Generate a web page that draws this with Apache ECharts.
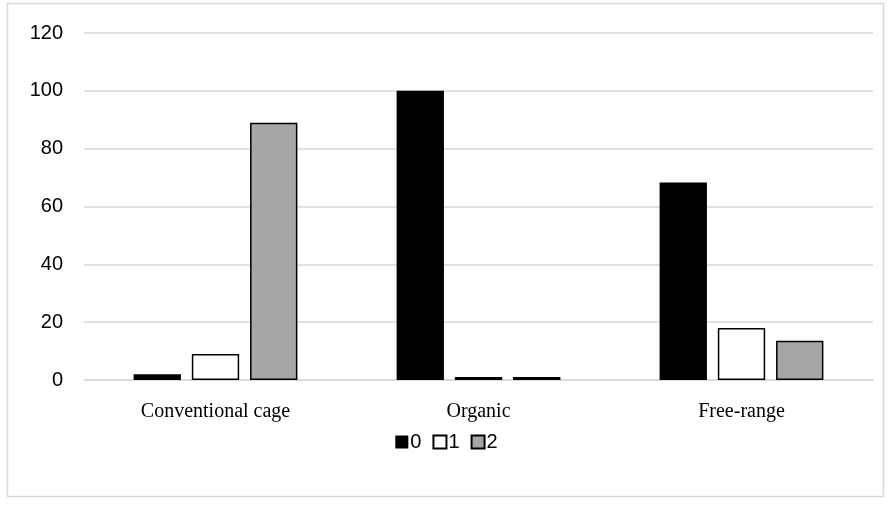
<!DOCTYPE html>
<html>
<head>
<meta charset="utf-8">
<script src="https://cdn.jsdelivr.net/npm/echarts@6/dist/echarts.min.js"></script>
<style>
html,body{margin:0;padding:0;background:#fff;}
#c{width:893px;height:506px;}
</style>
</head>
<body>
<div id="c"></div>
<script>
var categories = ['Conventional cage', 'Organic', 'Free-range'];
var seriesNames = ['0', '1', '2'];
var values0 = [2, 100, 68.3];
var values1 = [9, 1, 18];
var values2 = [89, 1, 13.6];
var yTicks = [0, 20, 40, 60, 80, 100, 120];

var chart = echarts.init(document.getElementById('c'));
var border = {color: '#000', width: 1.5};
chart.setOption({
  animation: false,
  backgroundColor: '#fff',
  graphic: [{
    type: 'rect', z: -10, silent: true,
    shape: {x: 7.5, y: 3.5, width: 876, height: 493},
    style: {fill: 'none', stroke: '#d9d9d9', lineWidth: 1.5}
  }],
  grid: {left: 84, right: 20, top: 33, bottom: 126, containLabel: false},
  legend: {
    bottom: 49, left: 'center',
    itemWidth: 13, itemHeight: 13, itemGap: 11,
    icon: 'rect',
    textStyle: {fontFamily: 'Liberation Sans, Arial, sans-serif', fontSize: 20, color: '#000', padding: [0,0,0,-3]},
    data: seriesNames
  },
  xAxis: {
    type: 'category',
    data: categories,
    axisLine: {lineStyle: {color: '#d9d9d9', width: 1.5}},
    axisTick: {show: false},
    axisLabel: {fontFamily: 'Liberation Serif, Times New Roman, serif', fontSize: 20, color: '#000', margin: 22}
  },
  yAxis: {
    type: 'value', min: yTicks[0], max: yTicks[yTicks.length - 1], interval: 20,
    axisLine: {show: false}, axisTick: {show: false},
    splitLine: {lineStyle: {color: '#d9d9d9', width: 1.5}},
    axisLabel: {fontFamily: 'Liberation Sans, Arial, sans-serif', fontSize: 20, color: '#000', margin: 21}
  },
  series: [
    {name: seriesNames[0], type: 'bar', data: values0, barWidth: '18%', barGap: '23%',
     itemStyle: {color: '#000', borderColor: '#000', borderWidth: 0}},
    {name: seriesNames[1], type: 'bar', data: values1, barWidth: '18%', barGap: '23%',
     itemStyle: {color: '#fff', borderColor: border.color, borderWidth: border.width}},
    {name: seriesNames[2], type: 'bar', data: values2, barWidth: '18%', barGap: '23%',
     itemStyle: {color: '#a6a6a6', borderColor: border.color, borderWidth: border.width}}
  ]
});
</script>
</body>
</html>
